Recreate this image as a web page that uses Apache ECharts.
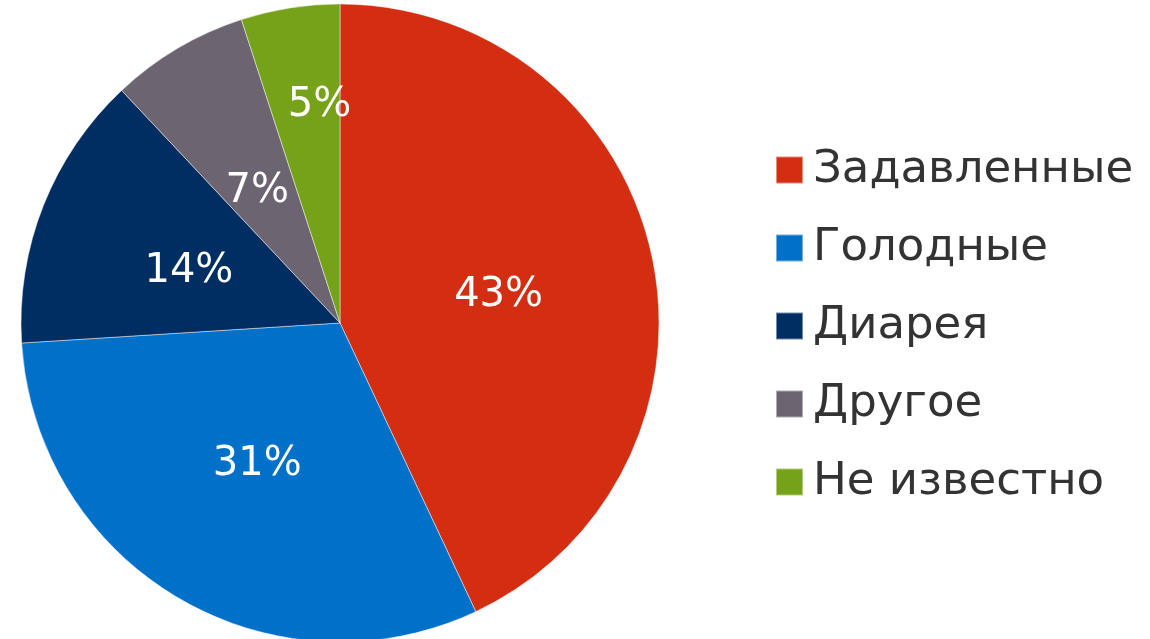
<!DOCTYPE html>
<html><head><meta charset="utf-8">
<script src="https://cdn.jsdelivr.net/npm/echarts@6/dist/echarts.min.js"></script>
<style>html,body{margin:0;padding:0;background:#fff}#c{width:1150px;height:639px}</style>
</head><body><div id="c"></div>
<script>
const categories = ['Задавленные', 'Голодные', 'Диарея', 'Другое', 'Не известно'];
const values = [43, 31, 14, 7, 5];
const colors = ['#D42E12', '#0070C8', '#002D62', '#6C6470', '#76A21A'];

const chart = echarts.init(document.getElementById('c'), null, {renderer: 'canvas'});
const richStyle = {
  lo: {color: '#ffffff', fontFamily: 'DejaVu Sans', fontSize: 40, padding: [16, 0, 0, 0]},
  mid: {color: '#ffffff', fontFamily: 'DejaVu Sans', fontSize: 40, padding: [4, 0, 0, 0]},
  side: {color: '#ffffff', fontFamily: 'DejaVu Sans', fontSize: 40, padding: [0, 0, 0, 28]}
};
const mainData = categories.map((n, i) => ({
  name: n, value: values[i],
  itemStyle: {color: colors[i]},
  label: {show: i < categories.length - 1, formatter: i === 1 ? '{mid|{c}%}' : '{lo|{c}%}'}
}));
const outerLabelData = categories.map((n, i) => ({
  name: n, value: values[i],
  label: {show: i === categories.length - 1, formatter: '{side|{c}%}'}
}));
chart.setOption({
  animation: false,
  legend: {
    orient: 'vertical', left: 770, top: 141,
    itemWidth: 27, itemHeight: 27, itemGap: 30,
    icon: 'rect',
    data: categories,
    textStyle: {fontFamily: 'DejaVu Sans', fontSize: 45, color: '#333333', lineHeight: 48, padding: [0, 0, 0, 5]}
  },
  series: [{
    type: 'pie', center: [340, 323], radius: [0, 319],
    startAngle: 90, clockwise: true,
    data: mainData,
    itemStyle: {borderColor: 'rgba(255,255,255,0.45)', borderWidth: 1},
    label: {position: 'inside', color: '#ffffff', fontFamily: 'DejaVu Sans', fontSize: 40, rich: richStyle},
    emphasis: {disabled: true}, silent: true
  }, {
    type: 'pie', center: [340, 323], radius: [110, 324],
    startAngle: 90, clockwise: true,
    data: outerLabelData,
    itemStyle: {color: 'rgba(0,0,0,0)'},
    label: {position: 'inside', color: '#ffffff', fontFamily: 'DejaVu Sans', fontSize: 40, rich: richStyle},
    legendHoverLink: false,
    emphasis: {disabled: true}, silent: true, z: 3
  }]
});
</script></body></html>
